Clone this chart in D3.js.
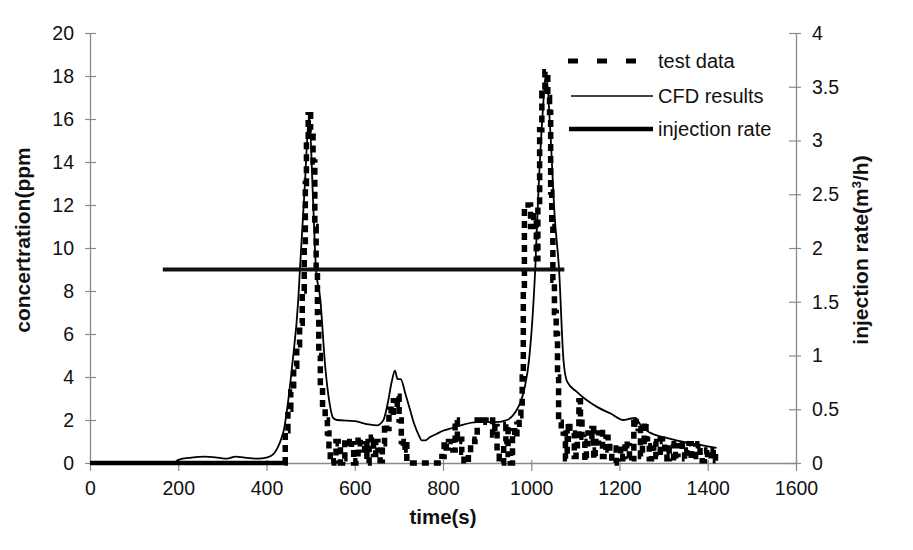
<!DOCTYPE html>
<html>
<head>
<meta charset="utf-8">
<script src="https://cdn.jsdelivr.net/npm/d3@7"></script>
<style>
  html, body { margin: 0; padding: 0; background: #fff; }
  svg { display: block; font-family: Arial, "Liberation Sans", Helvetica, sans-serif; }
</style>
</head>
<body>
<svg id="chart" width="913" height="550"></svg>
<script>
// ---------- data ----------
const xTicks = [0, 200, 400, 600, 800, 1000, 1200, 1400, 1600];
const yLeftTicks = [0, 2, 4, 6, 8, 10, 12, 14, 16, 18, 20];
const yRightTicks = [0, 0.5, 1, 1.5, 2, 2.5, 3, 3.5, 4];
const yRightTickLabels = ["0", "0.5", "1", "1.5", "2", "2.5", "3", "3.5", "4"];

// test data: [time (s), concentration (ppm)]
const testData = [
  [0, 0], [100, 0], [200, 0], [300, 0], [400, 0], [440, 0],
  [445, 1.5], [452, 2.5], [458, 3.3], [465, 4.5], [472, 5.5], [478, 6.5], [484, 8], [487, 10], [489, 13], [492, 15],
  [497, 16.2], [503, 15.5], [508, 14], [511, 11], [514, 9], [517, 7], [520, 5], [524, 3.5], [530, 2.5], [536, 2], [540, 1.4], [543, 0.5],
  [546, 0], [550, 0], [555, 0.1], [560, 1.0], [565, 0.9], [570, 0], [575, 0.2], [580, 1.1], [585, 1.0], [590, 0.7], [595, 0.9],
  [600, 0], [605, 0.1], [610, 1.2], [615, 0.9], [620, 0.6], [625, 1.0], [630, 0], [635, 0.8], [640, 1.2], [645, 0.4], [650, 1.0],
  [655, 0.6], [660, 0.1], [665, 0.9], [670, 1.8], [675, 1.6], [680, 2.5], [685, 2.2], [690, 2.9], [695, 2.6], [698, 3.1],
  [703, 2.0], [708, 1.0], [712, 0.6], [716, 1.0], [720, 0], [795, 0],
  [800, 0.3], [805, 1.0], [810, 0.7], [815, 1.0], [820, 1.0], [825, 0.6], [830, 2.0], [835, 1.0], [840, 1.1], [845, 0.5],
  [850, 0.1], [855, 0], [860, 0.5], [865, 1.0], [870, 1.0], [875, 1.1], [880, 2.0], [885, 1.9], [890, 2.0], [895, 2.0],
  [900, 1.9], [905, 2.0], [910, 2.0], [915, 1.3], [920, 1.7], [925, 0.5], [930, 0.2], [935, 0], [940, 1.0], [945, 1.8],
  [950, 0.4], [955, 0], [960, 1.5], [965, 1.2], [970, 1.8], [975, 2.2], [978, 2.6],
  [981, 4], [983, 8], [986, 12], [996, 12], [1001, 11], [1010, 11.5], [1013, 9.5], [1017, 12], [1021, 15.5], [1027, 17.2],
  [1035, 18.2], [1040, 17], [1043, 16.3], [1045, 12.6], [1048, 11], [1050, 8.5], [1055, 7], [1058, 6], [1061, 4],
  [1063, 2], [1066, 1.9], [1070, 1.5], [1075, 1.4], [1080, 0.2], [1083, 1.1], [1085, 1.9], [1090, 1.5], [1095, 1.4],
  [1100, 0.3], [1103, 0.8], [1106, 1.1], [1110, 2.9], [1113, 1.9], [1117, 1.2], [1120, 1.0], [1123, 0.1], [1127, 0.9],
  [1130, 1.4], [1135, 1.1], [1140, 1.6], [1143, 0.2], [1147, 0.6], [1150, 1.0], [1155, 1.4], [1160, 1.6], [1163, 0.3],
  [1167, 0.6], [1172, 1.2], [1176, 0.9], [1180, 0.5], [1185, 0.1], [1190, 0], [1195, 0.7], [1200, 0.8], [1205, 0.2],
  [1210, 0.3], [1215, 1.0], [1220, 0.8], [1225, 0.1], [1230, 0.2], [1235, 2.1], [1240, 1.8], [1245, 1.6], [1250, 0.3],
  [1254, 1.0], [1258, 1.9], [1262, 1.1], [1265, 0.8], [1270, 0.2], [1275, 0.7], [1280, 1.0], [1285, 0.3], [1290, 0.5],
  [1295, 1.1], [1300, 1.0], [1305, 0.4], [1310, 0.2], [1315, 0.7], [1320, 0.9], [1325, 0.1], [1330, 0.4], [1335, 0.8],
  [1340, 1.0], [1345, 0.5], [1350, 0.2], [1355, 0.6], [1360, 0.9], [1365, 0.2], [1370, 0.3], [1375, 0.8], [1380, 0.9],
  [1385, 0.3], [1390, 0.1], [1395, 0.4], [1400, 0.6], [1405, 0.5], [1410, 0.2], [1415, 0.6], [1420, 0.1]
];

// CFD results: [time (s), concentration (ppm)]
const cfdData = [
  [0, 0], [190, 0], [200, 0.15], [230, 0.25], [260, 0.3], [290, 0.25], [310, 0.2], [330, 0.3], [350, 0.25], [380, 0.2],
  [400, 0.25], [415, 0.4], [425, 0.7], [433, 1.1], [440, 1.6], [446, 2.4], [458, 4.5], [472, 7.6], [476, 9.1], [486, 12.6],
  [497, 16.1], [505, 12.5], [512, 9.1], [522, 7.6], [533, 4.5], [542, 2.9], [551, 2.1], [560, 2.0], [600, 1.95], [630, 1.8],
  [650, 1.75], [665, 2.0], [675, 2.8], [684, 3.8], [691, 4.3], [697, 3.9], [704, 3.9], [715, 3.2], [725, 2.5], [735, 1.8],
  [745, 1.3], [752, 1.05], [760, 1.05], [770, 1.2], [785, 1.35], [800, 1.5], [816, 1.6], [840, 1.75], [877, 1.9], [920, 1.9],
  [945, 2.0], [958, 2.2], [968, 2.5], [975, 2.8], [985, 3.5], [995, 4.8], [1009, 9], [1016, 12.5], [1025, 16], [1034, 18.1],
  [1043, 15.5], [1053, 11.5], [1063, 9], [1073, 4.8], [1081, 3.8], [1104, 3.3], [1150, 2.6], [1180, 2.3], [1209, 2.0],
  [1222, 2.05], [1236, 2.1], [1250, 1.7], [1270, 1.4], [1300, 1.2], [1340, 1.0], [1380, 0.85], [1420, 0.7]
];

// injection rate: [time (s), rate (m3/h)]
const injData = [[165, 1.8], [1075, 1.8]];

const legendLabels = ["test data", "CFD results", "injection rate"];

// ---------- layout ----------
const svg = d3.select("#chart");
const x = d3.scaleLinear().domain([0, 1600]).range([90, 796]);
const yL = d3.scaleLinear().domain([0, 20]).range([463, 33]);
const yR = d3.scaleLinear().domain([0, 4]).range([463, 33]);

const axisColor = "#8a8a8a";
const textColor = "#111";
const tickFont = 19.5;

// left axis
const gL = svg.append("g").attr("transform", `translate(${x(0)},0)`)
  .call(d3.axisLeft(yL).tickValues(yLeftTicks).tickSize(0).tickPadding(16));
gL.select(".domain").attr("stroke", axisColor).attr("stroke-width", 1.3);
gL.selectAll(".tick line").attr("x1", -5).attr("x2", 6).attr("stroke", axisColor).attr("stroke-width", 1.2);
gL.selectAll(".tick text").attr("font-size", tickFont).attr("fill", textColor);

// right axis
const gR = svg.append("g").attr("transform", `translate(${x(1600)},0)`)
  .call(d3.axisRight(yR).tickValues(yRightTicks).tickFormat((d, i) => yRightTickLabels[i]).tickSize(0).tickPadding(16));
gR.select(".domain").attr("stroke", axisColor).attr("stroke-width", 1.3);
gR.selectAll(".tick line").attr("x1", -7).attr("x2", 5).attr("stroke", axisColor).attr("stroke-width", 1.2);
gR.selectAll(".tick text").attr("font-size", tickFont).attr("fill", textColor);

// bottom axis
const gB = svg.append("g").attr("transform", `translate(0,${yL(0)})`)
  .call(d3.axisBottom(x).tickValues(xTicks).tickFormat(d3.format("d")).tickSize(0).tickPadding(18));
gB.select(".domain").attr("stroke", axisColor).attr("stroke-width", 1.3);
gB.selectAll(".tick line").attr("y1", -3).attr("y2", 8).attr("stroke", axisColor).attr("stroke-width", 1.2);
gB.selectAll(".tick text").attr("font-size", tickFont).attr("fill", textColor);

// axis titles
svg.append("text").attr("x", 443).attr("y", 524).attr("text-anchor", "middle")
  .attr("font-size", 20.5).attr("font-weight", "bold").attr("fill", textColor).text("time(s)");
svg.append("text").attr("transform", "translate(30,240) rotate(-90)").attr("text-anchor", "middle")
  .attr("font-size", 21).attr("font-weight", "bold").attr("fill", textColor).text("concertration(ppm");
const rt = svg.append("text").attr("transform", "translate(868,250) rotate(-90)").attr("text-anchor", "middle")
  .attr("font-size", 21).attr("font-weight", "bold").attr("fill", textColor);
rt.append("tspan").text("injection rate(m");
rt.append("tspan").attr("baseline-shift", "super").attr("font-size", 13).text("3");
rt.append("tspan").text("/h)");

// ---------- series ----------
svg.append("path").datum(cfdData)
  .attr("fill", "none").attr("stroke", "#000").attr("stroke-width", 1.8)
  .attr("stroke-linejoin", "round")
  .attr("d", d3.line().x(d => x(d[0])).y(d => yL(d[1])).curve(d3.curveMonotoneX));

// leading zero baseline of the test series reads as one continuous thick bar in the scan
svg.append("path").datum(testData.filter(d => d[0] <= 440))
  .attr("fill", "none").attr("stroke", "#000").attr("stroke-width", 4.5)
  .attr("d", d3.line().x(d => x(d[0])).y(d => yL(d[1])));

svg.append("path").datum(testData.filter(d => d[0] >= 440))
  .attr("fill", "none").attr("stroke", "#000").attr("stroke-width", 5.5)
  .attr("stroke-dasharray", "7,5")
  .attr("d", d3.line().x(d => x(d[0])).y(d => yL(d[1])).curve(d3.curveStep));

svg.append("path").datum(injData)
  .attr("fill", "none").attr("stroke", "#111").attr("stroke-width", 4)
  .attr("d", d3.line().x(d => x(d[0])).y(d => yR(d[1])));

// ---------- legend ----------
const leg = svg.append("g");
const legY = [61, 96, 129];
leg.append("line").attr("x1", 568).attr("x2", 642).attr("y1", legY[0]).attr("y2", legY[0])
  .attr("stroke", "#000").attr("stroke-width", 5).attr("stroke-dasharray", "10,19");
leg.append("line").attr("x1", 571).attr("x2", 653).attr("y1", legY[1]).attr("y2", legY[1])
  .attr("stroke", "#000").attr("stroke-width", 1.6);
leg.append("line").attr("x1", 569).attr("x2", 653).attr("y1", legY[2]).attr("y2", legY[2])
  .attr("stroke", "#000").attr("stroke-width", 4.5);
legendLabels.forEach((s, i) => {
  leg.append("text").attr("x", 658).attr("y", legY[i]).attr("dy", "0.36em")
    .attr("font-size", 20).attr("fill", textColor).text(s);
});
</script>
</body>
</html>
